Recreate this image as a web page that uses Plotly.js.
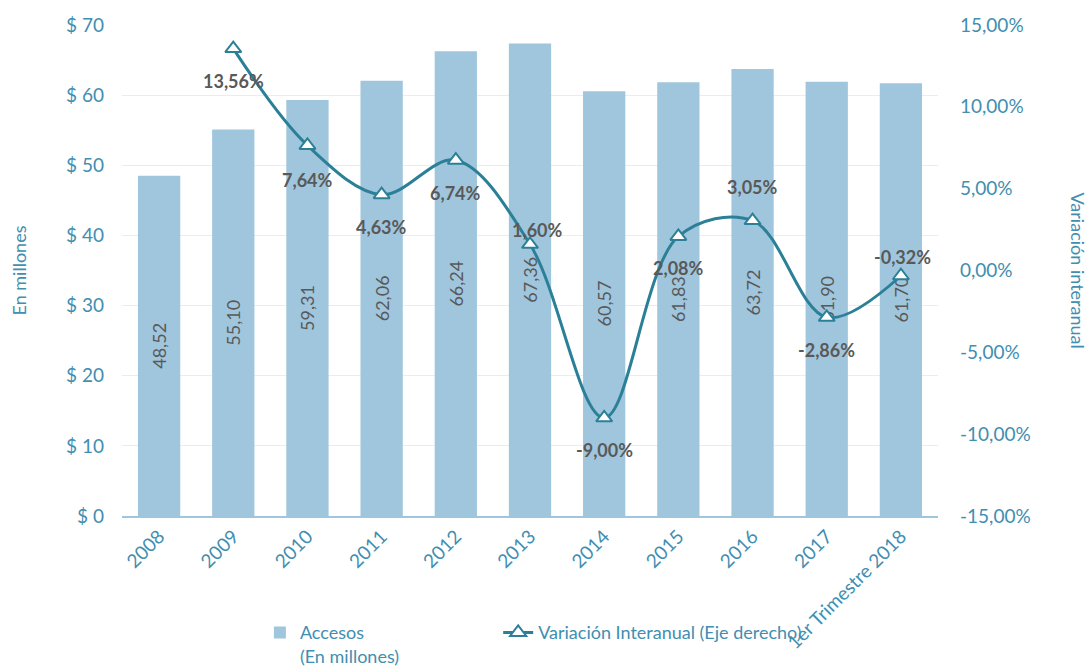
<!DOCTYPE html>
<html>
<head>
<meta charset="utf-8">
<script src="https://cdn.plot.ly/plotly-3.0.1.min.js"></script>
<style>html,body{margin:0;padding:0;background:#fff;}#chart{width:1088px;height:667px;}</style>
</head>
<body>
<div id="chart"></div>
<script>
// ---- Data ----
var categories = ['2008','2009','2010','2011','2012','2013','2014','2015','2016','2017','1er Trimestre 2018'];
var accesos = [48.52, 55.10, 59.31, 62.06, 66.24, 67.36, 60.57, 61.83, 63.72, 61.90, 61.70];
var variacionCats = ['2009','2010','2011','2012','2013','2014','2015','2016','2017','1er Trimestre 2018'];
var variacion = [13.56, 7.64, 4.63, 6.74, 1.60, -9.00, 2.08, 3.05, -2.86, -0.32];
var leftTickVals = [0,10,20,30,40,50,60,70];
var leftTickText = ['$ 0','$ 10','$ 20','$ 30','$ 40','$ 50','$ 60','$ 70'];
var rightTickVals = [-15,-10,-5,0,5,10,15];
var rightTickText = ['-15,00%','-10,00%','-5,00%','0,00%','5,00%','10,00%','15,00%'];

// ---- Styling ----
var teal = '#418EB0';
var lineColor = '#2B8098';
var barColor = '#A0C6DD';
var labelGray = '#595959';
var FONT = 'Lato, Carlito, Calibri, sans-serif';
// label offsets (px) relative to each line point
var labelShift = [-32, -35, -32, -33, 14, -32, -32, 34, -33, 19];
var labelXShift = [0, 0, 0, 0, 7, 0, 0, 0, 0, 2];

var barTrace = {
  type: 'bar',
  x: categories,
  y: accesos,
  name: 'Accesos<br>(En millones)',
  legend: 'legend',
  marker: {color: barColor},
  texttemplate: '%{y:.2f}',
  textposition: 'inside',
  insidetextanchor: 'middle',
  textangle: -90,
  textfont: {family: FONT, size: 18, color: labelGray},
  hoverinfo: 'skip'
};

var lineTrace = {
  type: 'scatter',
  mode: 'lines+markers',
  x: variacionCats,
  y: variacion,
  yaxis: 'y2',
  legend: 'legend2',
  name: 'Variación Interanual (Eje derecho)',
  line: {color: lineColor, width: 3, shape: 'spline', smoothing: 1},
  marker: {symbol: 'triangle-up', size: 14, color: '#FFFFFF', line: {color: lineColor, width: 2}},
  hoverinfo: 'skip'
};

var annotations = variacion.map(function(v, i) {
  return {
    x: categories.indexOf(variacionCats[i]), y: v, xref: 'x', yref: 'y2',
    text: v.toFixed(2).replace('.', ',') + '%',
    showarrow: false,
    yshift: labelShift[i], xshift: labelXShift[i],
    font: {family: FONT, size: 18, color: labelGray, weight: 'bold'}
  };
});
annotations.push({
  xref: 'paper', yref: 'paper', x: 0, y: 0.5, xshift: -104, xanchor: 'center', yanchor: 'middle',
  text: 'En millones', textangle: -90, showarrow: false,
  font: {family: FONT, size: 18, color: teal}
});
annotations.push({
  xref: 'paper', yref: 'paper', x: 1, y: 0.5, xshift: 140, xanchor: 'center', yanchor: 'middle',
  text: 'Variación interanual', textangle: 90, showarrow: false,
  font: {family: FONT, size: 18, color: teal}
});

var legendBase = {
  orientation: 'h',
  xanchor: 'left',
  y: -0.2, yanchor: 'top',
  valign: 'top',
  font: {family: FONT, size: 18, color: teal},
  bgcolor: 'rgba(0,0,0,0)'
};

var layout = {
  width: 1088, height: 667,
  margin: {l: 122, r: 150, t: 25, b: 151, autoexpand: false},
  paper_bgcolor: '#FFFFFF', plot_bgcolor: '#FFFFFF',
  separators: ',.',
  font: {family: FONT, size: 19, color: teal},
  showlegend: true,
  bargap: 0.43,
  xaxis: {
    type: 'category',
    range: [-0.5, categories.length - 0.5],
    tickangle: -45,
    tickfont: {family: FONT, size: 19, color: teal},
    showgrid: false,
    showline: true, linecolor: barColor, linewidth: 2,
    ticks: ''
  },
  yaxis: {
    range: [0, 70],
    tickvals: leftTickVals,
    ticktext: leftTickText,
    tickfont: {family: FONT, size: 19, color: teal},
    showgrid: true, gridcolor: '#E6EEF5', gridwidth: 1,
    zeroline: false, showline: false,
    ticks: '', ticklabelstandoff: 17
  },
  yaxis2: {
    overlaying: 'y', side: 'right',
    range: [-15, 15],
    tickvals: rightTickVals,
    ticktext: rightTickText,
    tickfont: {family: FONT, size: 19, color: teal},
    showgrid: false, zeroline: false, showline: false,
    ticks: '', ticklabelstandoff: 21
  },
  legend: Object.assign({}, legendBase, {x: 0.169}),
  legend2: Object.assign({}, legendBase, {x: 0.461}),
  annotations: annotations
};

Plotly.newPlot('chart', [barTrace, lineTrace], layout, {displayModeBar: false, staticPlot: true});
</script>
</body>
</html>
